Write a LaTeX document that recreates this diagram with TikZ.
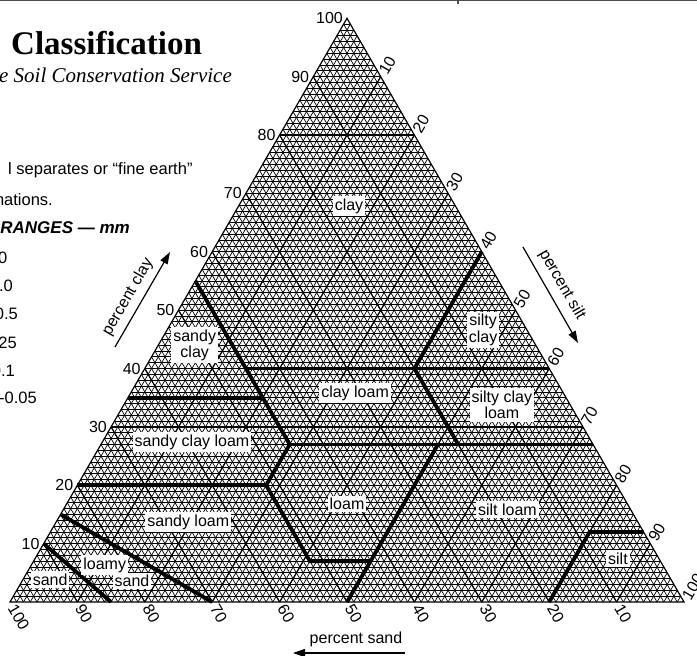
\documentclass[tikz,border=0pt]{standalone}
\usepackage{fontspec}
\setmainfont{Liberation Serif}
\setsansfont{Liberation Sans}
\usetikzlibrary{arrows.meta}
\tikzset{
  myfine/.style={
    draw=black,
    line width=0.7pt,
  },
  mymajor/.style={
    draw=black,
    line width=1.2pt,
  },
  myclass/.style={
    draw=black,
    line width=3.8pt,
  },
  mylabel/.style={
    fill=white,
    inner xsep=2pt,
    inner ysep=2.5pt,
    align=center,
    font=\sffamily\fontsize{16}{16.5}\selectfont
  },
  mytick/.style={
    inner sep=4pt,
    font=\sffamily\fontsize{16}{19}\selectfont
  },
  mytitle/.style={
    inner sep=0pt,
    font=\sffamily\fontsize{16}{19}\selectfont
  },
  mytext/.style={
    inner sep=0pt,
    font=\sffamily\fontsize{16.5}{20}\selectfont
  },
  myarrow/.style={
    draw=black,
    line width=1.2pt,
    -{Triangle[length=12pt, width=8pt]},
  }
}

\begin{document}
\begin{tikzpicture}
    \useasboundingbox (0pt,0pt) rectangle (697pt,-656pt);

    \draw [gray!60!black, line width=1.2pt] (0pt,-0.6pt) -- (697pt,-0.6pt);
    \draw [gray!60!black, line width=1.2pt] (458pt,0pt) -- (458pt,-3.5pt);

    % left column, cut off by the page
    \node [inner sep=0pt, anchor=base west, font=\rmfamily\bfseries\fontsize{33}{40}\selectfont] (title) at (11pt,-54pt) {Classification};
    \node [inner sep=0pt, anchor=base east, font=\rmfamily\itshape\fontsize{21}{25}\selectfont] (subtitle) at (232pt,-82pt) {e Soil Conservation Service};
    \node [mytext, anchor=base west] (note1) at (8pt,-174pt) {l separates or “fine earth”};
    \node [mytext, anchor=base east] (note2) at (53pt,-205pt) {nations.};
    \node [mytext, anchor=base east, font=\sffamily\bfseries\itshape\fontsize{17}{20}\selectfont] (ranges) at (130pt,-233pt) {RANGES — mm};
    \foreach \t/\x/\y [count=\n] in {0/7.5/263, .0/13/291, 0.5/18/319, 25/17/348, 0.1/15/376, -0.05/37/403}
      \node [mytext, anchor=base east] (range\n) at (\x pt,-\y pt) {\t};

    % triangle: x = percent silt, y = percent clay
    \begin{scope}[shift={(10pt,-602pt)}, x={(6.74pt,0pt)}, y={(3.37pt,5.837pt)}]
      \foreach \i in {1,...,99} {
        \draw [myfine] (0,\i) -- ({100-\i},\i);
        \draw [myfine] (\i,0) -- (\i,{100-\i});
        \draw [myfine] (\i,0) -- (0,\i);
      }
      \foreach \i in {10,20,...,90} {
        \draw [mymajor] (0,\i) -- ({100-\i},\i);
        \draw [mymajor] (\i,0) -- (\i,{100-\i});
        \draw [mymajor] (\i,0) -- (0,\i);
      }
      \draw [mymajor] (0,0) -- (100,0) -- (0,100) -- cycle;

      % class boundaries
      \draw [myclass] (0,55) -- (28,27) -- (28,20) -- (41,7) -- (50,7);
      \draw [myclass] (15,40) -- (60,40);
      \draw [myclass] (40,60) -- (40,40) -- (53,27);
      \draw [myclass] (28,27) -- (73,27);
      \draw [myclass] (0,35) -- (20,35);
      \draw [myclass] (0,20) -- (28,20);
      \draw [myclass] (50,0) -- (50,27);
      \draw [myclass] (80,0) -- (80,12) -- (88,12);
      \draw [myclass] (0,15) -- (30,0);
      \draw [myclass] (0,10) -- (15,0);

      \node [mylabel] (clay) at (16.4,67.8) {clay};
      \node [mylabel] (siltyclay) at (46.9,46.6) {silty\\clay};
      \node [mylabel] (sandyclay) at (5.4,44) {sandy\\clay};
      \node [mylabel] (clayloam) at (33.3,35.8) {clay loam};
      \node [mylabel] (siltyclayloam) at (56.1,33.75) {silty clay\\loam};
      \node [mylabel] (sandyclayloam) at (13.3,27.4) {sandy clay loam};
      \node [mylabel] (loam) at (41.6,16.8) {loam};
      \node [mylabel] (siltloam) at (65.9,15.8) {silt loam};
      \node [mylabel] (sandyloam) at (19.6,13.7) {sandy loam};
      \node [mylabel] (silt) at (86.5,7.4) {silt};
      \node [mylabel] (loamy) at (10.9,6.3) {loamy};
      \node [mylabel] (loamysand) at (16.3,3.6) {sand};
      \node [mylabel] (sand) at (4.05,3.8) {sand};

      \foreach \i in {10,20,...,100} {
        \node [mytick, anchor=east] (cl\i) at (0,\i) {\i};
        \node [mytick, anchor=west, rotate=60] (si\i) at (\i,{100-\i}) {\i};
        \node [mytick, anchor=west, rotate=-60] (sa\i) at ({100-\i},0) {\i};
      }
    \end{scope}

    % axis titles
    \node [mytitle, rotate=60] (pclay) at (128pt,-297pt) {percent clay};
    \node [mytitle, rotate=-60] (psilt) at (562pt,-285pt) {percent silt};
    \node [mytitle] (psand) at (356pt,-639pt) {percent sand};

    \coordinate (clayA) at (115pt,-347pt);
    \coordinate (clayB) at (170pt,-252pt);
    \coordinate (siltA) at (523pt,-247pt);
    \coordinate (siltB) at (578pt,-343pt);
    \coordinate (sandA) at (405pt,-653pt);
    \coordinate (sandB) at (293pt,-653pt);

    \draw [myarrow] (clayA) -- (clayB);
    \draw [myarrow] (siltA) -- (siltB);
    \draw [myarrow] (sandA) -- (sandB);
\end{tikzpicture}
\end{document}
